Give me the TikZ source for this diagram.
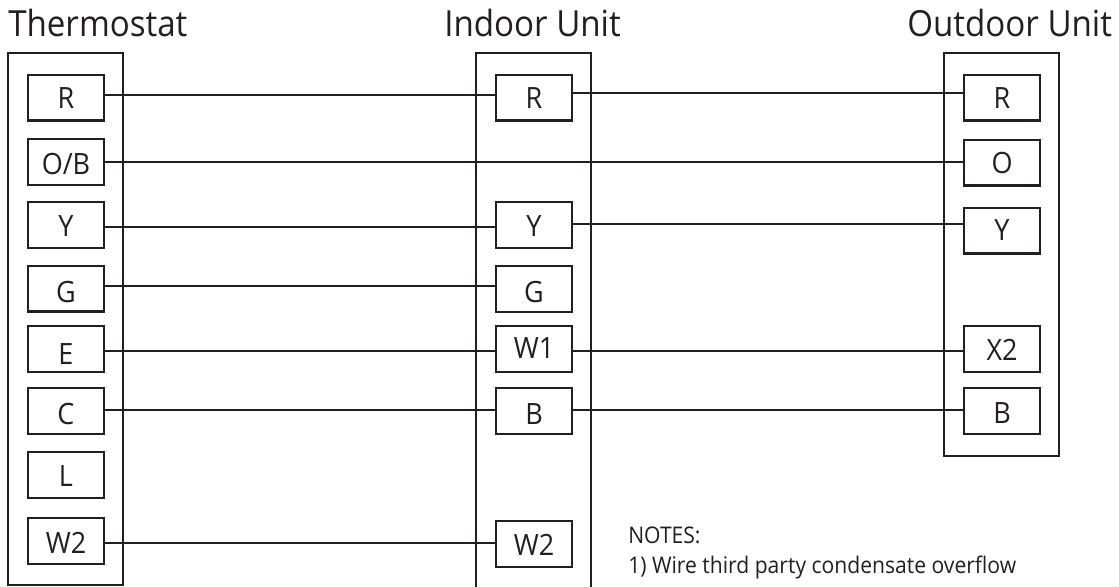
\documentclass[tikz,border=0pt]{standalone}
\usepackage{fontspec}
\setmainfont[FakeStretch=0.92]{Open Sans}
\definecolor{ink}{HTML}{231F20}
\newcommand\lb[2]{\raisebox{#1}[0pt][0pt]{#2}}
\tikzset{
 px/.style={x=0.75pt,y=-0.75pt},
 outer/.style={draw=ink,line width=1.3pt,fill=white},
 term/.style={draw=ink,line width=1.8pt,fill=white,minimum width=56.6pt,minimum height=34.2pt,inner sep=0pt,text=ink,text height=15.7pt,text depth=0pt,font=\fontsize{22}{24}\selectfont},
 title/.style={text=ink,font=\fontsize{27}{29}\selectfont,inner sep=0pt,anchor=base west},
 wire/.style={draw=ink,line width=1.4pt},
 note/.style={text=ink,font=\fontsize{17.2}{19}\selectfont,inner sep=0pt,anchor=base west}
}
\begin{document}
\begin{tikzpicture}[px]
\useasboundingbox (0,0) rectangle (1119,586);
\clip (0,0) rectangle (1119,586);
\fill[white] (0,0) rectangle (1119,586);
\node[title] (t1) at (8,36) {Thermostat};
\node[title] (t2) at (444,36) {Indoor Unit};
\node[title] (t3) at (907,36) {Outdoor Unit};
\draw[outer] (8,53) rectangle (123,585);
\draw[outer] (476,53) rectangle (591,620);
\draw[outer] (944,53) rectangle (1059,456);
\node[term] (tr) at (66,97.5) {\lb{-0.4pt}{R}};
\node[term] (to) at (66,162) {\lb{-1.5pt}{O/B}};
\node[term] (ty) at (66,225) {\lb{-0.4pt}{Y}};
\node[term] (tg) at (66,288.5) {\lb{-2.6pt}{G}};
\node[term] (te) at (66,349) {\lb{-3.75pt}{E}};
\node[term] (tc) at (66,411) {\lb{-2.25pt}{C}};
\node[term] (tl) at (66,475) {\lb{-0.4pt}{L}};
\node[term] (tw) at (66,541) {\lb{-1.5pt}{W2}};
\node[term] (ir) at (534,97.5) {\lb{-0.75pt}{R}};
\node[term] (iy) at (534,225) {\lb{-0.75pt}{Y}};
\node[term] (ig) at (534,289) {\lb{-2.25pt}{G}};
\node[term] (iw) at (534,349) {\lb{0.75pt}{W1}};
\node[term] (ib) at (534,411) {\lb{-1.9pt}{B}};
\node[term] (iv) at (534,544) {\lb{-0.4pt}{W2}};
\node[term] (or) at (1002,97.5) {\lb{-0.75pt}{R}};
\node[term] (oo) at (1002,162.5) {\lb{-0.75pt}{O}};
\node[term] (oy) at (1002,230.5) {\lb{0pt}{Y}};
\node[term] (ox) at (1002,349) {\lb{-1.1pt}{X2}};
\node[term] (ob) at (1002,411) {\lb{-1.5pt}{B}};
\draw[wire] (tr.east |- 0,95) -- (ir.west |- 0,95);
\draw[wire] (ir.east |- 0,93) -- (or.west |- 0,93);
\draw[wire] (to.east |- 0,162) -- (oo.west |- 0,162);
\draw[wire] (ty.east |- 0,227) -- (iy.west |- 0,227);
\draw[wire] (iy.east |- 0,224) -- (oy.west |- 0,224);
\draw[wire] (tg.east |- 0,286) -- (ig.west |- 0,286);
\draw[wire] (te.east |- 0,351) -- (iw.west |- 0,351);
\draw[wire] (iw.east |- 0,351) -- (ox.west |- 0,351);
\draw[wire] (tc.east |- 0,410) -- (ib.west |- 0,410);
\draw[wire] (ib.east |- 0,410) -- (ob.west |- 0,410);
\draw[wire] (tw.east |- 0,543) -- (iv.west |- 0,543);
\node[note] (n1) at (628,543) {NOTES:};
\node[note] (n2) at (628,573) {1) Wire third party condensate overflow};
\end{tikzpicture}
\end{document}
